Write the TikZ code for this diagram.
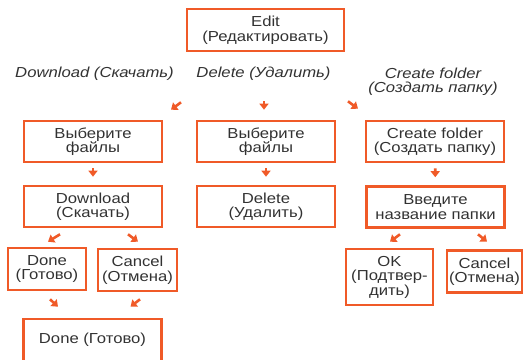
\documentclass[tikz,border=0pt]{standalone}
\usepackage{fontspec}
\setmainfont{Liberation Sans}[FakeStretch=1.15]
\usetikzlibrary{arrows.meta}
\definecolor{edge}{RGB}{240,90,40}
\definecolor{ink}{RGB}{50,50,50}
\begin{document}
\begin{tikzpicture}[x=1pt, y=-1pt,
  box/.style={draw=edge, line width=2.6pt, align=center, inner sep=0pt, text=ink, font=\fontsize{14.5}{14.5}\selectfont},
  col/.style={box, minimum width=138pt, minimum height=41pt},
  head/.style={align=center, text=ink, font=\fontsize{14.5}{14.5}\selectfont\itshape},
  arr/.style={-{Triangle[width=9pt,length=6pt]}, draw=edge, line width=2.6pt}]
\useasboundingbox (0,0) rectangle (525,359);

\node[box, minimum width=157pt, minimum height=42pt] (edit) at (265.5,30) {Edit\\(Редактировать)};
\node[head] (hdl) at (94.5,74) {Download (Скачать)};
\node[head] (hdel) at (263.5,74) {Delete (Удалить)};
\node[head] (hcf) at (433,81.5) {Create folder\\(Создать папку)};

\node[col] (dl1) at (93,141.5) {Выберите\\файлы};
\node[col] (del1) at (266,141.5) {Выберите\\файлы};
\node[col] (cf1) at (435,141.5) {Create folder\\(Создать папку)};
\node[col] (dl2) at (93,206.5) {Download\\(Скачать)};
\node[col] (del2) at (266,206.5) {Delete\\(Удалить)};
\node[col] (cf2) at (435.5,207) {Введите\\название папки};

\node[box, minimum width=78pt, minimum height=42pt] (done1) at (47,269) {Done\\(Готово)};
\node[box, minimum width=79pt, minimum height=42pt] (cancel1) at (137.5,270) {Cancel\\(Отмена)};
\node[box, minimum width=87pt, minimum height=56pt] (ok) at (389.5,277) {OK\\(Подтвер-\\дить)};
\node[box, minimum width=75pt, minimum height=42pt] (cancel2) at (484.5,271.5) {Cancel\\(Отмена)};
\node[col, minimum height=42pt] (done2) at (92.5,340) {Done (Готово)};

% short arrows between the boxes
\draw[arr]([xshift=-84.5pt,yshift=-50pt]edit.south)--([xshift=78pt,yshift=10pt]dl1.north);
\draw[arr]([xshift=-1.5pt,yshift=-49pt]edit.south)--([xshift=-2pt,yshift=10pt]del1.north);
\draw[arr]([xshift=82.5pt,yshift=-49pt]edit.south)--([xshift=-77pt,yshift=11pt]cf1.north);
\foreach \a/\b in {dl1/dl2, del1/del2, cf1/cf2}
{
    \draw[arr, shorten <=5pt, shorten >=8pt](\a)--(\b);
}
\draw[arr]([xshift=-33pt,yshift=-6pt]dl2.south)--([xshift=1pt,yshift=5pt]done1.north);
\draw[arr]([xshift=35pt,yshift=-6pt]dl2.south)--([xshift=0.5pt,yshift=6pt]cancel1.north);
\draw[arr]([xshift=-35.5pt,yshift=-5.5pt]cf2.south)--([xshift=0.5pt,yshift=6pt]ok.north);
\draw[arr]([xshift=42.5pt,yshift=-5.5pt]cf2.south)--([xshift=2.5pt,yshift=7.5pt]cancel2.north);
\draw[arr]([xshift=3pt,yshift=-8pt]done1.south)--([xshift=-34.5pt,yshift=11pt]done2.north);
\draw[arr]([xshift=2.5pt,yshift=-7pt]cancel1.south)--([xshift=38pt,yshift=11pt]done2.north);

\end{tikzpicture}
\end{document}
